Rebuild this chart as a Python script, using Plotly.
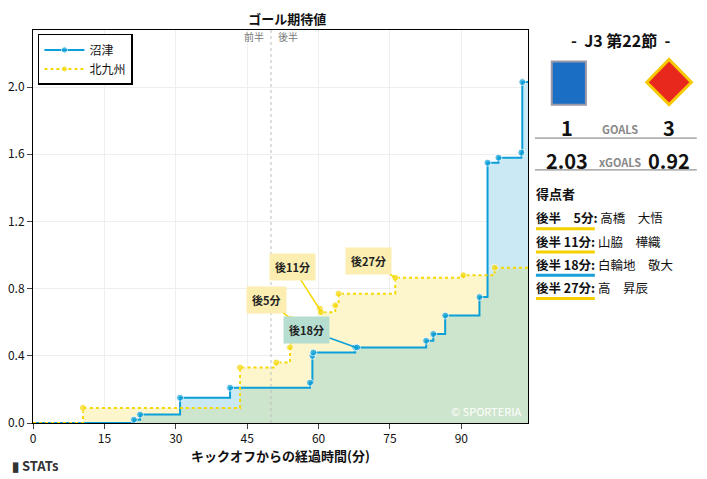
import numpy as np
import plotly.graph_objects as go

# 沼津 xG の累積 (分, 値)
numazu_min = [0, 21.2, 22.5, 30.9, 41.4, 58.2, 58.7, 58.9, 67.7, 68.1, 82.6, 84.1, 86.6, 93.8, 95.5, 97.8, 102.6, 102.8, 104]
numazu_xg = [0, 0.02, 0.05, 0.15, 0.21, 0.24, 0.40, 0.42, 0.45, 0.45, 0.49, 0.53, 0.64, 0.75, 1.55, 1.58, 1.61, 2.03, 2.03]
# 北九州
kita_min = [0, 10.5, 43.5, 51.1, 54.0, 54.2, 60.3, 60.5, 63.5, 64.2, 76.1, 90.4, 97.0, 104]
kita_xg = [0, 0.09, 0.33, 0.36, 0.45, 0.62, 0.68, 0.66, 0.70, 0.77, 0.865, 0.88, 0.925, 0.925]

goals = [("後5分", 54.2, 0.62, "#fbeeb0"), ("後11分", 60.4, 0.67, "#fbeeb0"),
         ("後18分", 67.9, 0.45, "#b5ded0"), ("後27分", 76.1, 0.865, "#fbeeb0")]
goal_ax = [(49, 0.735), (54.5, 0.93), (57.5, 0.555), (70.5, 0.965)]

scorers = [("後半　5分:", "高橋　大悟", "#f5d000"), ("後半 11分:", "山脇　樺織", "#f5d000"),
           ("後半 18分:", "白輪地　敬大", "#1a9fd9"), ("後半 27分:", "高　昇辰", "#f5d000")]

BLUE = "#0a9fd8"
YEL = "#f5d800"

def step_at(xs, ys, t):
    i = np.searchsorted(xs, t, side="right") - 1
    return np.array(ys)[i]

grid = np.unique(np.concatenate([numazu_min, kita_min]))
low = np.minimum(step_at(numazu_min, numazu_xg, grid), step_at(kita_min, kita_xg, grid))

fig = go.Figure()
fig.add_trace(go.Scatter(x=numazu_min, y=numazu_xg, line_shape="hv", mode="none", fill="tozeroy",
                         fillcolor="#cbe8f5", showlegend=False, hoverinfo="skip"))
fig.add_trace(go.Scatter(x=kita_min, y=kita_xg, line_shape="hv", mode="none", fill="tozeroy",
                         fillcolor="#fdf6cc", showlegend=False, hoverinfo="skip"))
fig.add_trace(go.Scatter(x=grid, y=low, line_shape="hv", mode="none", fill="tozeroy",
                         fillcolor="#cde5cc", showlegend=False, hoverinfo="skip"))
sz = lambda n: [0] + [7] * (n - 2) + [0]
fig.add_trace(go.Scatter(x=numazu_min, y=numazu_xg, line_shape="hv", mode="lines+markers", name="沼津",
                         line=dict(color=BLUE, width=2), marker=dict(size=sz(len(numazu_min)), color=BLUE)))
fig.add_trace(go.Scatter(x=kita_min, y=kita_xg, line_shape="hv", mode="lines+markers", name="北九州",
                         line=dict(color=YEL, width=2, dash="dot"), marker=dict(size=sz(len(kita_min)), color=YEL)))

fig.add_vline(x=50, line=dict(color="#bbbbbb", width=1, dash="dot"))
fig.add_annotation(x=49, y=2.3, text="前半", showarrow=False, xanchor="right", font=dict(size=10, color="#777"))
fig.add_annotation(x=51, y=2.3, text="後半", showarrow=False, xanchor="left", font=dict(size=10, color="#777"))

for (txt, gx, gy, bg), (axx, ayy) in zip(goals, goal_ax):
    fig.add_annotation(x=gx, y=gy, ax=axx, ay=ayy, axref="x", ayref="y", text="<b>" + txt + "</b>",
                       showarrow=True, arrowhead=0, arrowwidth=1.5,
                       arrowcolor=BLUE if bg == "#b5ded0" else YEL,
                       bgcolor=bg, borderpad=5, font=dict(size=11, color="#222"))

fig.add_annotation(x=103, y=0.01, text="© SPORTERIA", showarrow=False, xanchor="right", yanchor="bottom",
                   font=dict(size=11, color="white"))

# right panel
pf = dict(xref="paper", yref="paper", showarrow=False, yanchor="middle")
fig.add_annotation(x=1.186, y=0.975, xanchor="center", text="<b>-  J3 第22節  -</b>",
                   font=dict(size=16, color="#111"), **pf)
fig.add_shape(type="rect", xref="paper", yref="paper", x0=1.048, x1=1.117, y0=0.81, y1=0.92,
              fillcolor="#1a6fc4", line=dict(color="#99a", width=2))
fig.add_shape(type="path", xref="paper", yref="paper",
              path="M 1.24 0.867 L 1.285 0.925 L 1.33 0.867 L 1.285 0.81 Z",
              fillcolor="#e8281c", line=dict(color="#f5c800", width=3))
fig.add_annotation(x=1.079, y=0.751, xanchor="center", text="<b>1</b>", font=dict(size=20, color="#111"), **pf)
fig.add_annotation(x=1.186, y=0.748, xanchor="center", text="<b>GOALS</b>", font=dict(size=11, color="#888"), **pf)
fig.add_annotation(x=1.285, y=0.751, xanchor="center", text="<b>3</b>", font=dict(size=20, color="#111"), **pf)
fig.add_shape(type="line", xref="paper", yref="paper", x0=1.014, x1=1.341, y0=0.725, y1=0.725,
              line=dict(color="#777", width=1))
fig.add_annotation(x=1.079, y=0.669, xanchor="center", text="<b>2.03</b>", font=dict(size=20, color="#111"), **pf)
fig.add_annotation(x=1.186, y=0.664, xanchor="center", text="<b>xGOALS</b>", font=dict(size=11, color="#888"), **pf)
fig.add_annotation(x=1.285, y=0.669, xanchor="center", text="<b>0.92</b>", font=dict(size=20, color="#111"), **pf)
fig.add_shape(type="line", xref="paper", yref="paper", x0=1.014, x1=1.341, y0=0.644, y1=0.644,
              line=dict(color="#777", width=1))
fig.add_annotation(x=1.012, y=0.583, text="<b>得点者</b>", xanchor="left", font=dict(size=13, color="#111"), **pf)
for i, (t, name, c) in enumerate(scorers):
    yy = 0.522 - i * 0.059
    fig.add_annotation(x=1.012, y=yy, text="<b>" + t + "</b> " + name, xanchor="left",
                       font=dict(size=12.5, color="#111"), **pf)
    fig.add_shape(type="line", xref="paper", yref="paper", x0=1.016, x1=1.135, y0=yy - 0.028, y1=yy - 0.028,
                  line=dict(color=c, width=3))

fig.add_annotation(x=-0.046, y=-0.109, text="<b>▮ STATs</b>", xanchor="left", font=dict(size=13, color="#333"), **pf)

# the page adds 8px body margin, so margins are trimmed to keep the same placement
fig.update_layout(
    width=707, height=479, plot_bgcolor="white", paper_bgcolor="white",
    margin=dict(l=25, r=187, t=22, b=64, autoexpand=False),
    font=dict(family="Noto Sans CJK JP", color="#111"),
    title=dict(text="<b>ゴール期待値</b>", x=0.395, y=0.985, xanchor="center", font=dict(size=13)),
    legend=dict(x=0.01, y=0.99, bordercolor="black", borderwidth=1.5, bgcolor="white",
                font=dict(size=12), itemwidth=40),
    xaxis=dict(range=[0, 104], tickvals=[0, 15, 30, 45, 60, 75, 90], showgrid=True, gridcolor="#eeeeee",
               showline=True, linecolor="black", mirror=True, ticks="outside", zeroline=False,
               title=dict(text="<b>キックオフからの経過時間(分)</b>", font=dict(size=13), standoff=5)),
    yaxis=dict(range=[0, 2.34], tickvals=[0, 0.4, 0.8, 1.2, 1.6, 2.0], tickformat=".1f", showgrid=True,
               gridcolor="#eeeeee", showline=True, linecolor="black", mirror=True, ticks="outside", zeroline=False),
)
fig.write_html("out.html")
